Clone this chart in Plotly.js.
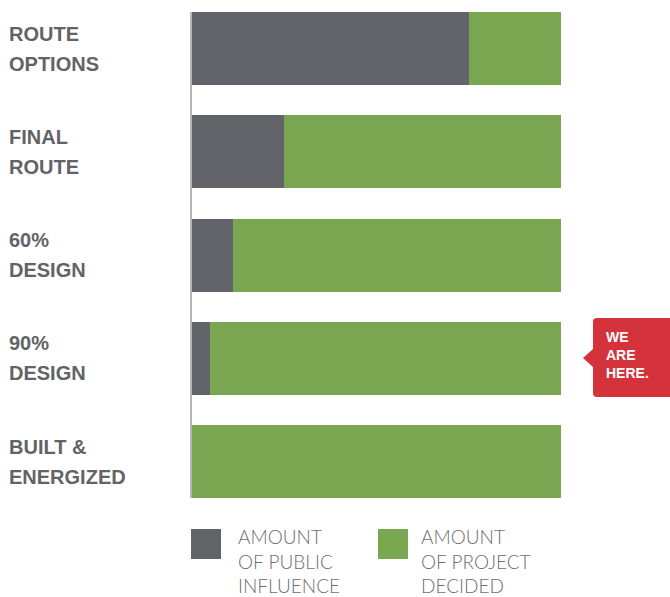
<!DOCTYPE html>
<html>
<head>
<meta charset="utf-8">
<script src="https://cdn.plot.ly/plotly-3.0.1.min.js"></script>
<style>html,body{margin:0;padding:0;background:#fff;}#chart{width:670px;height:597px;}</style>
</head>
<body>
<div id="chart"></div>
<script>
// ---- data ----
const categories = ["ROUTE OPTIONS", "FINAL ROUTE", "60% DESIGN", "90% DESIGN", "BUILT & ENERGIZED"];
const labelLines = [["ROUTE", "OPTIONS"], ["FINAL", "ROUTE"], ["60%", "DESIGN"], ["90%", "DESIGN"], ["BUILT &", "ENERGIZED"]];
const publicInfluence = [75, 25, 11, 5, 0];
const projectDecided = [25, 75, 89, 95, 100];
const seriesNames = ["AMOUNT<br>OF PUBLIC<br>INFLUENCE", "AMOUNT<br>OF PROJECT<br>DECIDED"];
const calloutText = "WE<br>ARE<br>HERE.";

// ---- styles / layout constants ----
const GRAY = "#636469", GREEN = "#7aa651", RED = "#d5333b", AXIS = "#b7b7ba", LABEL = "#626368";
const W = 670, H = 597, L = 192, R = 109, T = 12, B = 99;
const pw = W - L - R, ph = H - T - B;
const px = x => (x - L) / pw;
const py = y => (H - B - y) / ph;

const traces = [
  {type: "bar", orientation: "h", y: categories, x: publicInfluence, name: seriesNames[0],
   marker: {color: GRAY}, hoverinfo: "skip"},
  {type: "bar", orientation: "h", y: categories, x: projectDecided, name: seriesNames[1],
   marker: {color: GREEN}, hoverinfo: "skip"}
];

const annotations = [];
labelLines.forEach((lines, i) => {
  lines.forEach((t, j) => {
    annotations.push({xref: "paper", yref: "y", x: px(7), y: categories[i], xanchor: "left", yanchor: "middle",
      yshift: j === 0 ? 15 : -15, text: "<b>" + t + "</b>", showarrow: false, align: "left",
      font: {family: "Liberation Sans, Arial, sans-serif", size: 20, color: LABEL}});
  });
});
// legend texts
[[236, 0], [419, 1]].forEach(([x, k]) => {
  annotations.push({xref: "paper", yref: "paper", x: px(x), y: py(561), xanchor: "left", yanchor: "middle",
    text: seriesNames[k], showarrow: false, align: "left",
    font: {family: "Lato, Open Sans, sans-serif", size: 19, color: "#6d6e72", weight: 300}});
});
// callout text
annotations.push({xref: "paper", yref: "paper", x: px(604), y: py(355), xanchor: "left", yanchor: "middle",
  text: "<b>" + calloutText + "</b>", showarrow: false, align: "left",
  font: {family: "Liberation Sans, Arial, sans-serif", size: 14, color: "#ffffff"}});

function P(x, y) { return px(x) + "," + py(y); }
const calloutPath = "M" + P(597, 318) + " L" + P(676, 318) + " L" + P(676, 397) + " L" + P(597, 397) +
  " Q" + P(593, 397) + " " + P(593, 393) + " L" + P(593, 367) + " L" + P(583, 358) + " L" + P(593, 349) +
  " L" + P(593, 322) + " Q" + P(593, 318) + " " + P(597, 318) + " Z";

const shapes = [
  {type: "rect", xref: "paper", yref: "paper", x0: px(191), x1: px(221), y0: py(529), y1: py(559),
   fillcolor: GRAY, line: {width: 0}},
  {type: "rect", xref: "paper", yref: "paper", x0: px(378), x1: px(408), y0: py(529), y1: py(559),
   fillcolor: GREEN, line: {width: 0}},
  {type: "path", xref: "paper", yref: "paper", path: calloutPath, fillcolor: RED, line: {width: 0}}
];

const layout = {
  width: W, height: H,
  margin: {l: L, r: R, t: T, b: B, pad: 0},
  paper_bgcolor: "#ffffff", plot_bgcolor: "#ffffff",
  barmode: "stack", bargap: 0.293, showlegend: false,
  xaxis: {range: [0, 100], visible: false, fixedrange: true},
  yaxis: {type: "category", range: [4.3535, -0.3535], showticklabels: false, showgrid: false,
    zeroline: false, showline: true, linecolor: AXIS, linewidth: 2, ticks: "", fixedrange: true},
  annotations: annotations,
  shapes: shapes
};

Plotly.newPlot("chart", traces, layout, {staticPlot: true, displayModeBar: false});
</script>
</body>
</html>
